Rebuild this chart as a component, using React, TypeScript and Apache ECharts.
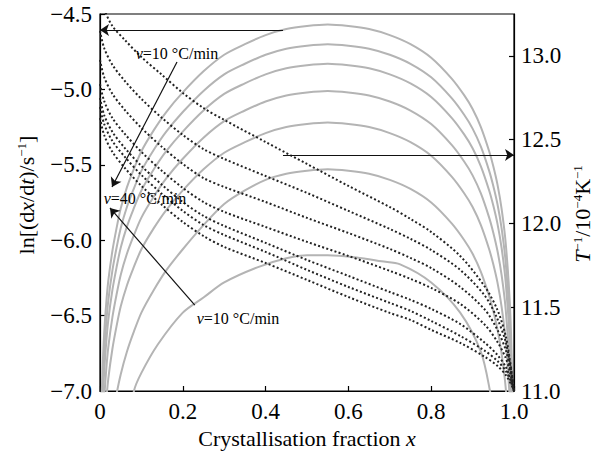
import React, { useEffect, useRef } from 'react';
import * as echarts from 'echarts';

const FONT = '"Liberation Serif", "Times New Roman", serif';

// x grid shared by the six upper solid curves (ln rate, left axis)
const xsSolid = [0.001, 0.003, 0.006, 0.01, 0.015, 0.02, 0.03, 0.04, 0.05, 0.065, 0.08, 0.1, 0.13, 0.16, 0.2, 0.25, 0.3, 0.35, 0.4, 0.45, 0.5, 0.55, 0.6, 0.65, 0.7, 0.75, 0.8, 0.85, 0.88, 0.9, 0.92, 0.94, 0.95, 0.96, 0.97, 0.98, 0.99, 0.995, 0.999];

// lowest solid curve (v = 10 °C/min) has its own x grid
const solid1X = [0.06, 0.082, 0.1, 0.14, 0.2, 0.25, 0.3, 0.38, 0.45, 0.5, 0.55, 0.62, 0.68, 0.725, 0.8, 0.87, 0.92, 0.942, 0.96];
const solid1Y = [-7.4, -7.0, -6.88, -6.69, -6.48, -6.38, -6.28, -6.18, -6.12, -6.10, -6.10, -6.115, -6.14, -6.16, -6.28, -6.48, -6.74, -7.0, -7.3];

const solid2 = [-8.9, -8.3, -8.0, -7.75, -7.55, -7.4, -7.18, -7.02, -6.89, -6.74, -6.62, -6.48, -6.33, -6.2, -6.06, -5.9, -5.76, -5.67, -5.6, -5.56, -5.54, -5.53, -5.54, -5.56, -5.6, -5.66, -5.75, -5.89, -6.0, -6.09, -6.21, -6.37, -6.47, -6.59, -6.75, -6.98, -7.38, -7.83, -8.83];
const solid3 = [-8.52, -7.82, -7.52, -7.27, -7.07, -6.92, -6.72, -6.57, -6.44, -6.3, -6.19, -6.06, -5.92, -5.8, -5.67, -5.53, -5.42, -5.35, -5.29, -5.25, -5.23, -5.22, -5.23, -5.25, -5.29, -5.35, -5.44, -5.58, -5.69, -5.78, -5.9, -6.06, -6.16, -6.28, -6.44, -6.67, -7.07, -7.52, -8.52];
const solid4 = [-8.31, -7.61, -7.31, -7.06, -6.86, -6.71, -6.51, -6.36, -6.23, -6.09, -5.98, -5.85, -5.71, -5.59, -5.46, -5.32, -5.21, -5.14, -5.08, -5.04, -5.02, -5.01, -5.02, -5.04, -5.08, -5.14, -5.23, -5.37, -5.48, -5.57, -5.69, -5.85, -5.95, -6.07, -6.23, -6.46, -6.86, -7.31, -8.31];
const solid5 = [-8.13, -7.43, -7.13, -6.88, -6.68, -6.53, -6.33, -6.18, -6.05, -5.91, -5.8, -5.67, -5.53, -5.41, -5.28, -5.14, -5.03, -4.96, -4.9, -4.86, -4.84, -4.83, -4.84, -4.86, -4.9, -4.96, -5.05, -5.19, -5.3, -5.39, -5.51, -5.67, -5.77, -5.89, -6.05, -6.28, -6.68, -7.13, -8.13];
const solid6 = [-8.0, -7.3, -7.0, -6.75, -6.55, -6.4, -6.2, -6.05, -5.92, -5.78, -5.67, -5.54, -5.4, -5.28, -5.15, -5.01, -4.9, -4.83, -4.77, -4.73, -4.71, -4.7, -4.71, -4.73, -4.77, -4.83, -4.92, -5.06, -5.17, -5.26, -5.38, -5.54, -5.64, -5.76, -5.92, -6.15, -6.55, -7.0, -8.0];
const solid7 = [-7.87, -7.17, -6.87, -6.62, -6.42, -6.27, -6.07, -5.92, -5.79, -5.65, -5.54, -5.41, -5.27, -5.15, -5.02, -4.88, -4.77, -4.7, -4.64, -4.6, -4.58, -4.57, -4.58, -4.6, -4.64, -4.7, -4.79, -4.93, -5.04, -5.13, -5.25, -5.41, -5.51, -5.63, -5.79, -6.02, -6.42, -6.87, -7.87];

// dotted curves (T^-1, right axis)
const xsDot = [0, 0.01, 0.03, 0.06, 0.1, 0.15, 0.2, 0.25, 0.3, 0.4, 0.5, 0.6, 0.7, 0.75, 0.8, 0.87, 0.93, 0.96, 0.98, 0.99, 0.995, 1.0];
const dot1 = [13.381, 13.28, 13.178, 13.095, 12.993, 12.886, 12.779, 12.689, 12.618, 12.486, 12.355, 12.224, 12.098, 12.027, 11.949, 11.806, 11.621, 11.484, 11.329, 11.186, 11.102, 11.0];
const dot2 = [13.149, 13.047, 12.946, 12.85, 12.743, 12.629, 12.528, 12.444, 12.385, 12.283, 12.182, 12.075, 11.967, 11.908, 11.842, 11.723, 11.567, 11.43, 11.293, 11.168, 11.09, 11.0];
const dot3 = [12.976, 12.874, 12.773, 12.677, 12.57, 12.456, 12.355, 12.271, 12.218, 12.128, 12.033, 11.943, 11.848, 11.794, 11.734, 11.621, 11.484, 11.365, 11.245, 11.144, 11.078, 11.0];
const dot4 = [12.832, 12.731, 12.629, 12.534, 12.427, 12.313, 12.212, 12.128, 12.069, 11.979, 11.89, 11.806, 11.717, 11.669, 11.615, 11.52, 11.394, 11.293, 11.197, 11.114, 11.06, 11.0];
const dot5 = [12.749, 12.647, 12.546, 12.45, 12.343, 12.23, 12.128, 12.045, 11.985, 11.884, 11.782, 11.687, 11.591, 11.544, 11.49, 11.4, 11.287, 11.215, 11.144, 11.084, 11.048, 11.0];
const dot6 = [12.695, 12.594, 12.492, 12.397, 12.289, 12.176, 12.075, 11.991, 11.931, 11.83, 11.723, 11.621, 11.526, 11.478, 11.418, 11.329, 11.239, 11.18, 11.12, 11.072, 11.036, 11.0];
const dot7 = [12.629, 12.528, 12.427, 12.331, 12.224, 12.11, 12.009, 11.925, 11.86, 11.764, 11.663, 11.561, 11.466, 11.424, 11.365, 11.287, 11.203, 11.15, 11.096, 11.054, 11.03, 11.0];

const solidUpper = [solid2, solid3, solid4, solid5, solid6, solid7];
const dotted = [dot1, dot2, dot3, dot4, dot5, dot6, dot7];

// annotation arrows in data coordinates
const arrowLeftAxis = { from: [0.442, -4.606], to: [0.0, -4.606] };
const arrowRightAxis = { from: [0.442, 12.409], to: [1.0, 12.409] };
const arrowDotRates = { from: [0.186, -4.818], to: [0.029, -5.647] };
const arrowSolidRates = { from: [0.229, -6.43], to: [0.024, -5.786] };

const pair = (xs: number[], ys: number[]) => xs.map((x, i) => [x, ys[i]]);

const fmtLeft = (v: number) => (v < 0 ? '\u2212' : '') + Math.abs(v).toFixed(1);
const fmtRight = (v: number) => (v > 13.1 ? '' : v.toFixed(1));
const fmtX = (v: number) => (v === 0 ? '0' : v.toFixed(1));

const GRAY = '#b4b4b4';
const DOT = '#222222';

export default function App() {
  const ref = useRef<HTMLDivElement>(null);
  useEffect(() => {
    if (!ref.current) return;
    const chart = echarts.init(ref.current, undefined, { renderer: 'svg' });
    const axisCommon = {
      axisLine: { show: true, onZero: false, lineStyle: { color: '#000', width: 1.2 } },
      axisTick: { show: true, inside: true, length: 5, lineStyle: { color: '#000', width: 1.2 } },
      splitLine: { show: false },
    };
    const labelStyle = { color: '#000', fontFamily: FONT, fontSize: 23 };
    const arrowLine = (a: { from: number[]; to: number[] }) => [{ coord: a.from }, { coord: a.to }];
    const markLineBase = {
      silent: true,
      symbol: ['none', 'arrow'],
      symbolSize: 9,
      label: { show: false },
      lineStyle: { type: 'solid', color: '#111', width: 1.2 },
      animation: false,
    };

    const series: any[] = [];
    series.push({
      type: 'line', yAxisIndex: 0, data: pair(solid1X, solid1Y), showSymbol: false, symbol: 'none',
      smooth: 0.3, lineStyle: { color: GRAY, width: 2 }, silent: true, z: 2,
    });
    solidUpper.forEach((ys, i) => {
      const s: any = {
        type: 'line', yAxisIndex: 0, data: pair(xsSolid, ys), showSymbol: false, symbol: 'none',
        smooth: 0.3, lineStyle: { color: GRAY, width: 2 }, silent: true, z: 2,
      };
      if (i === solidUpper.length - 1) {
        s.markLine = { ...markLineBase, data: [arrowLine(arrowLeftAxis), arrowLine(arrowDotRates), arrowLine(arrowSolidRates)] };
      }
      series.push(s);
    });
    dotted.forEach((ys, i) => {
      const s: any = {
        type: 'line', yAxisIndex: 1, data: pair(xsDot, ys), showSymbol: false, symbol: 'none',
        smooth: 0.3, lineStyle: { color: DOT, width: 2, type: [2, 2.3] }, silent: true, z: 3,
      };
      if (i === 0) {
        s.markLine = { ...markLineBase, data: [arrowLine(arrowRightAxis)] };
      }
      series.push(s);
    });

    const supRich = {
      i: { fontStyle: 'italic', fontFamily: FONT, fontSize: 22, fill: '#000' },
      s: { fontFamily: FONT, fontSize: 13, verticalAlign: 'top', fill: '#000' },
    };
    const annRich = { i: { fontStyle: 'italic', fontFamily: FONT, fontSize: 16, fill: '#000' } };

    chart.setOption({
      animation: false,
      grid: { left: 100, right: 85, top: 14, bottom: 63, show: true, borderColor: '#000', borderWidth: 1.2, backgroundColor: 'transparent' },
      xAxis: {
        type: 'value', min: 0, max: 1, interval: 0.2, ...axisCommon,
        axisLabel: { ...labelStyle, formatter: fmtX, margin: 9 },
      },
      yAxis: [
        {
          type: 'value', min: -7, max: -4.5, interval: 0.5, position: 'left', ...axisCommon,
          axisLabel: { ...labelStyle, formatter: fmtLeft, margin: 8 },
        },
        {
          type: 'value', min: 11, max: 13.25, interval: 0.5, position: 'right', ...axisCommon,
          axisLabel: { ...labelStyle, formatter: fmtRight, margin: 7, showMaxLabel: false },
        },
      ],
      series,
      graphic: [
        {
          type: 'text', x: 26, y: 195, rotation: Math.PI / 2,
          style: {
            text: 'ln[(d{i|x}/d{i|t})/s{s|\u22121}]', fontFamily: FONT, fontSize: 22, fill: '#000',
            align: 'center', verticalAlign: 'middle', rich: supRich,
          },
        },
        {
          type: 'text', x: 582, y: 214, rotation: Math.PI / 2,
          style: {
            text: '{i|T}{s|\u22121}/10{s|\u22124}K{s|\u22121}', fontFamily: FONT, fontSize: 22, fill: '#000',
            align: 'center', verticalAlign: 'middle', rich: supRich,
          },
        },
        {
          type: 'text', x: 307, y: 438,
          style: {
            text: 'Crystallisation fraction {i|x}', fontFamily: FONT, fontSize: 22, fill: '#000',
            align: 'center', verticalAlign: 'middle', rich: supRich,
          },
        },
        {
          type: 'text', x: 177, y: 53, z: 10,
          style: { text: '{i|v}=10 °C/min', fontFamily: FONT, fontSize: 16, fill: '#000', align: 'center', verticalAlign: 'middle', rich: annRich },
        },
        {
          type: 'text', x: 145, y: 198, z: 10,
          style: { text: '{i|v}=40 °C/min', fontFamily: FONT, fontSize: 16, fill: '#000', align: 'center', verticalAlign: 'middle', rich: annRich },
        },
        {
          type: 'text', x: 238, y: 318, z: 10,
          style: { text: '{i|v}=10 °C/min', fontFamily: FONT, fontSize: 16, fill: '#000', align: 'center', verticalAlign: 'middle', rich: annRich },
        },
      ],
    });
    return () => chart.dispose();
  }, []);
  return <div ref={ref} style={{ position: 'absolute', left: 0, top: 0, width: 599, height: 454, background: '#fff' }} />;
}
